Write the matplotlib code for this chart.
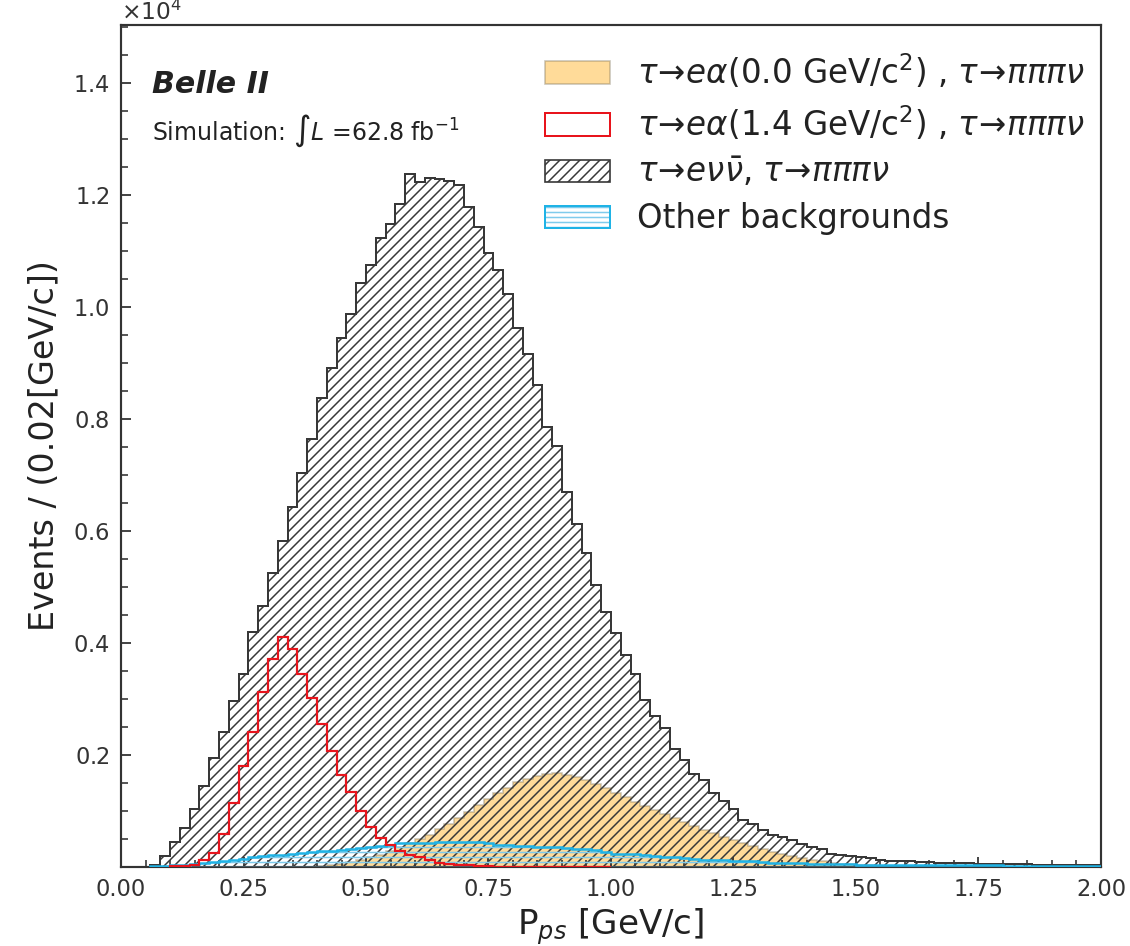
import numpy as np
import matplotlib
matplotlib.use("Agg")
import matplotlib.pyplot as plt
from matplotlib.patches import Patch
from matplotlib.ticker import FixedLocator, MultipleLocator, ScalarFormatter, FormatStrFormatter
from matplotlib.legend_handler import HandlerTuple

plt.rcParams["font.family"] = ["DejaVu Sans"]
plt.rcParams["hatch.linewidth"] = 0.9

# Binning: 0.02 GeV/c bins over the full momentum range
BIN_WIDTH = 0.02
X_MIN, X_MAX = 0.0, 2.0
SCALE = 1e4  # bin contents below are in units of 10^4 events

# tau -> e nu nubar, tau -> pi pi pi nu   (bins starting at 0.00)
sm_bkg = [
    0.000, 0.000, 0.000, 0.003, 0.019, 0.044, 0.069, 0.103, 0.144, 0.195,
    0.241, 0.297, 0.344, 0.419, 0.466, 0.525, 0.583, 0.643, 0.703, 0.765,
    0.838, 0.892, 0.945, 0.987, 1.043, 1.076, 1.123, 1.149, 1.185, 1.238,
    1.224, 1.230, 1.229, 1.225, 1.219, 1.178, 1.143, 1.096, 1.066, 1.024,
    0.963, 0.916, 0.861, 0.786, 0.752, 0.669, 0.612, 0.561, 0.503, 0.456,
    0.418, 0.379, 0.344, 0.298, 0.270, 0.248, 0.211, 0.192, 0.167, 0.155,
    0.133, 0.118, 0.103, 0.084, 0.077, 0.066, 0.057, 0.053, 0.048, 0.041,
    0.035, 0.032, 0.024, 0.021, 0.020, 0.017, 0.016, 0.0125, 0.011, 0.011,
    0.010, 0.009, 0.009, 0.008, 0.008, 0.007, 0.007, 0.006, 0.006, 0.005,
    0.005, 0.005, 0.006, 0.004, 0.004, 0.004, 0.004, 0.003, 0.003, 0.003,
]

# tau -> e alpha (0.0 GeV/c^2), tau -> pi pi pi nu   (bins starting at 0.40)
sig_m00_start = 0.40
sig_m00 = [
    0.002, 0.004, 0.006, 0.009, 0.013, 0.017, 0.022, 0.028, 0.035, 0.042,
    0.050, 0.058, 0.067, 0.077, 0.088, 0.099, 0.110, 0.121, 0.132, 0.142,
    0.151, 0.157, 0.162, 0.166, 0.168, 0.165, 0.161, 0.155, 0.149, 0.141,
    0.133, 0.125, 0.117, 0.109, 0.101, 0.094, 0.087, 0.080, 0.073, 0.066,
    0.060, 0.054, 0.048, 0.042, 0.037, 0.032, 0.027, 0.023, 0.019, 0.016,
    0.013, 0.010, 0.008, 0.006, 0.005, 0.004, 0.003, 0.002, 0.002, 0.001,
]

# tau -> e alpha (1.4 GeV/c^2), tau -> pi pi pi nu   (bins starting at 0.10)
sig_m14_start = 0.10
sig_m14 = [
    0.001, 0.002, 0.004, 0.012, 0.025, 0.059, 0.114, 0.180, 0.241, 0.312,
    0.372, 0.410, 0.390, 0.344, 0.301, 0.255, 0.207, 0.164, 0.134, 0.100,
    0.071, 0.051, 0.039, 0.029, 0.021, 0.017, 0.012, 0.008, 0.006, 0.004,
    0.003, 0.002, 0.001, 0.0005, 0.0005, 0.0005, 0.0005, 0.0005, 0.0005, 0.0005,
    0.0005, 0.0005, 0.0005, 0.0005, 0.0005,
]

# Other backgrounds   (bins starting at 0.06)
other_start = 0.06
other_bkg = [
    0.001, 0.002, 0.003, 0.004, 0.005, 0.007, 0.009, 0.011, 0.013, 0.015,
    0.017, 0.019, 0.021, 0.022, 0.024, 0.025, 0.027, 0.028, 0.029, 0.031,
    0.032, 0.034, 0.036, 0.038, 0.040, 0.042, 0.042, 0.043, 0.043, 0.044,
    0.045, 0.045, 0.044, 0.045, 0.042, 0.040, 0.040, 0.038, 0.037, 0.036,
    0.035, 0.036, 0.034, 0.033, 0.032, 0.030, 0.026, 0.024, 0.023, 0.023,
    0.021, 0.019, 0.017, 0.017, 0.016, 0.014, 0.013, 0.012, 0.012, 0.011,
    0.010, 0.010, 0.009, 0.008, 0.008, 0.007, 0.007, 0.006, 0.006, 0.005,
    0.005, 0.005, 0.004, 0.004, 0.004, 0.004, 0.004, 0.004, 0.003, 0.003,
    0.003, 0.003, 0.003, 0.003, 0.003, 0.003, 0.003, 0.002, 0.002, 0.002,
    0.002, 0.002, 0.002, 0.002, 0.002, 0.002, 0.002,
]

labels = [
    r"$\tau\!\rightarrow\!e\alpha$(0.0 GeV/c$^2$) , $\tau\!\rightarrow\!\pi\pi\pi\nu$",
    r"$\tau\!\rightarrow\!e\alpha$(1.4 GeV/c$^2$) , $\tau\!\rightarrow\!\pi\pi\pi\nu$",
    r"$\tau\!\rightarrow\!e\nu\bar{\nu}$, $\tau\!\rightarrow\!\pi\pi\pi\nu$",
    "Other backgrounds",
]


def edges_from(start, n):
    return start + BIN_WIDTH * np.arange(n + 1)


def hist_from(ax, start, values, **kw):
    values = np.asarray(values, dtype=float) * SCALE
    edges = edges_from(start, len(values))
    centers = 0.5 * (edges[:-1] + edges[1:])
    return ax.hist(centers, bins=edges, weights=values, **kw)


fig = plt.figure(figsize=(1130 / 120, 946 / 120), dpi=120)
ax = fig.add_axes([0.1071, 0.0835, 0.8672, 0.8901])

orange_face = (1.0, 0.647, 0.0, 0.4)
orange_edge = (0.55, 0.5, 0.4, 0.45)
hist_from(ax, sig_m00_start, sig_m00, histtype="stepfilled",
          facecolor=orange_face, edgecolor=orange_edge, linewidth=1.0, zorder=1)

hist_from(ax, X_MIN, sm_bkg, histtype="stepfilled", fill=False, hatch="////",
          edgecolor="#383838", linewidth=1.2, zorder=2)

blue_hatch = "#7fcbec"
blue_line = "#1fb3e6"
hist_from(ax, other_start, other_bkg, histtype="stepfilled", fill=False, hatch="----",
          edgecolor=blue_hatch, linewidth=0.0, zorder=3)
hist_from(ax, other_start, other_bkg, histtype="step",
          edgecolor=blue_line, linewidth=1.5, zorder=4)

hist_from(ax, sig_m14_start, sig_m14, histtype="step",
          edgecolor="#e8141c", linewidth=1.3, zorder=5)

ax.set_xlim(X_MIN, X_MAX)
ax.set_ylim(0, 1.504 * SCALE)

ax.xaxis.set_major_locator(MultipleLocator(0.25))
ax.xaxis.set_minor_locator(MultipleLocator(0.05))
ax.yaxis.set_major_locator(FixedLocator(np.arange(0.2, 1.41, 0.2) * SCALE))
ax.yaxis.set_minor_locator(MultipleLocator(0.05 * SCALE))
fmt = ScalarFormatter(useMathText=True)
fmt.set_powerlimits((0, 0))
ax.yaxis.set_major_formatter(fmt)
ax.xaxis.set_major_formatter(FormatStrFormatter("%.2f"))

ax.tick_params(which="both", direction="in", top=False, right=False,
               labelsize=13.5, colors="#222222", labelcolor="#333333")
ax.tick_params(axis="y", which="both", pad=7)
ax.tick_params(axis="x", which="both", pad=6.5)
ax.tick_params(which="major", length=6, width=1.0)
ax.tick_params(which="minor", length=4, width=0.9)
ax.yaxis.get_offset_text().set_fontsize(14)
for s in ax.spines.values():
    s.set_linewidth(1.3)
    s.set_color("#333333")

ax.set_xlabel(r"P$_{ps}$ [GeV/c]", fontsize=20.5, color="#222222", labelpad=3)
ax.set_ylabel("Events / (0.02[GeV/c])", fontsize=20, color="#222222", labelpad=7.5)

ax.text(0.032, 0.919, "Belle II", transform=ax.transAxes, fontsize=18,
        fontweight="bold", fontstyle="italic", color="#222222", va="baseline")
ax.text(0.032, 0.864, r"Simulation: $\int L$ =62.8 fb$^{-1}$", transform=ax.transAxes,
        fontsize=14.2, color="#222222", va="baseline")

handles = [
    Patch(facecolor=orange_face, edgecolor=orange_edge, linewidth=1.0),
    Patch(facecolor="white", edgecolor="#e8141c", linewidth=1.2),
    Patch(facecolor="none", edgecolor="#383838", hatch="////", linewidth=1.0),
    (Patch(facecolor="none", edgecolor=blue_hatch, hatch="----", linewidth=0.0),
     Patch(facecolor="none", edgecolor=blue_line, linewidth=1.2)),
]
ax.legend(handles, labels, loc="upper right", bbox_to_anchor=(1.0, 0.987),
          frameon=False, fontsize=19.5, handlelength=2.0, handleheight=0.7,
          handletextpad=0.82, labelspacing=0.4, borderaxespad=0.1,
          handler_map={tuple: HandlerTuple(ndivide=1, pad=0.0)},
          labelcolor="#222222")

fig.savefig("out.png", dpi=120)
